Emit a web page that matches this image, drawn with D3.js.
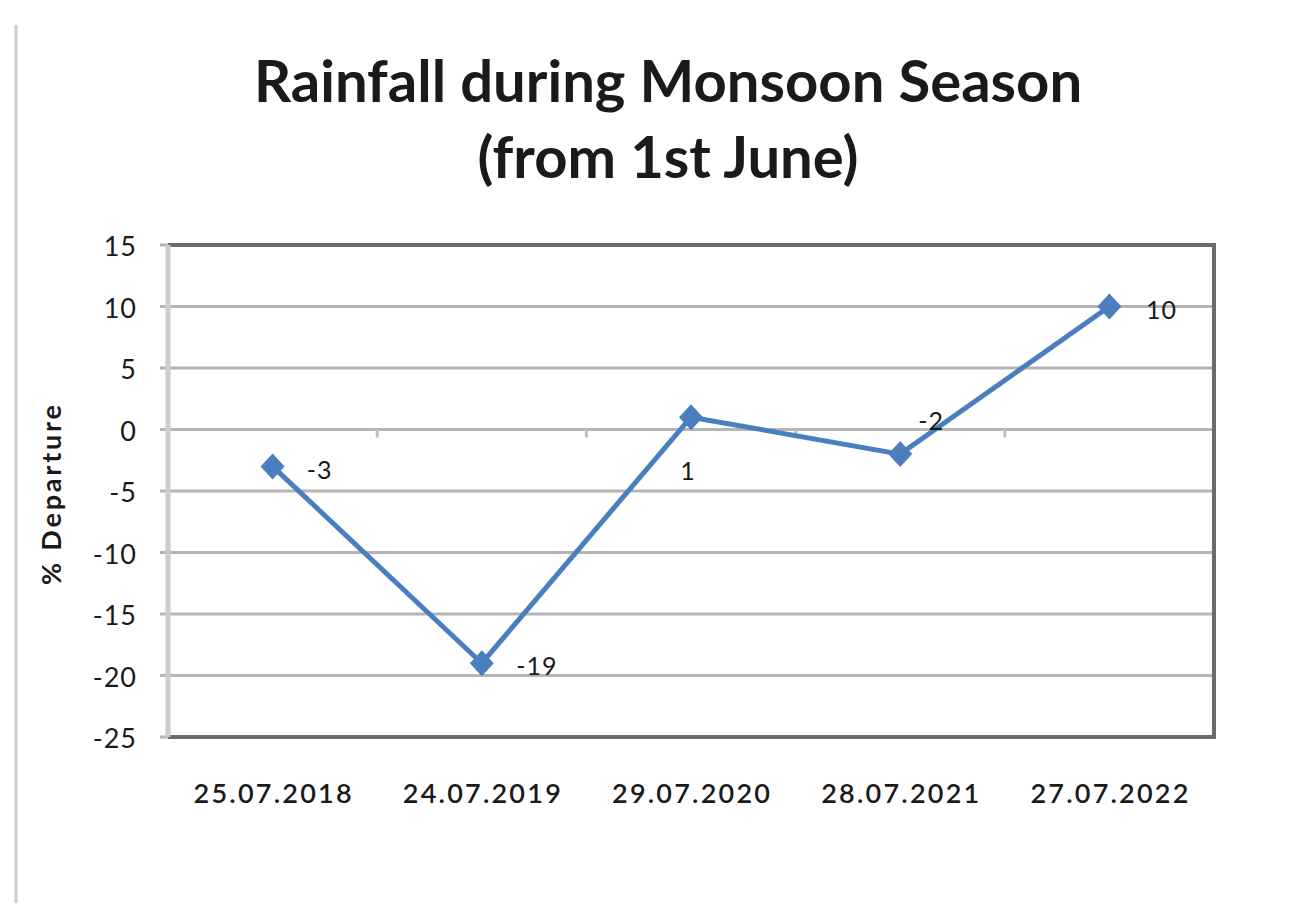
<!DOCTYPE html>
<html>
<head>
<meta charset="utf-8">
<script src="https://cdn.jsdelivr.net/npm/d3@7"></script>
<style>
  body { margin: 0; background: #fff; }
  text { font-family: Lato, "Open Sans", sans-serif; fill: #1a1a1a; }
</style>
</head>
<body>
<svg width="1306" height="906"></svg>
<script>
// data
var dates = ["25.07.2018", "24.07.2019", "29.07.2020", "28.07.2021", "27.07.2022"];
var departure = [-3, -19, 1, -2, 10];
var yTicks = [15, 10, 5, 0, -5, -10, -15, -20, -25];
var titleLines = ["Rainfall during Monsoon Season", "(from 1st June)"];

var svg = d3.select("svg"),
    width = +svg.attr("width"),
    height = +svg.attr("height");

var plot = { left: 168, right: 1214, top: 245, bottom: 737 };

var x = d3.scaleBand()
    .domain(dates)
    .range([plot.left, plot.right]);

var y = d3.scaleLinear()
    .domain([-25, 15])
    .range([plot.bottom, plot.top]);

// outer frame line on the left
svg.append("line")
    .attr("x1", 16).attr("x2", 16)
    .attr("y1", 25).attr("y2", 903)
    .attr("stroke", "#cccccc")
    .attr("stroke-width", 3);

// title
svg.selectAll(".title")
    .data(titleLines)
    .enter()
    .append("text")
    .attr("class", "title")
    .attr("x", 668)
    .attr("y", function (d, i) { return 102 + i * 76; })
    .attr("text-anchor", "middle")
    .style("font-size", "58px")
    .style("font-weight", "bold")
    .text(function (d) { return d; });

// gridlines
svg.append("g")
    .selectAll("line")
    .data(yTicks)
    .enter()
    .append("line")
    .attr("x1", plot.left - 8)
    .attr("x2", plot.right)
    .attr("y1", function (d) { return y(d); })
    .attr("y2", function (d) { return y(d); })
    .attr("stroke", "#b5b5b5")
    .attr("stroke-width", 3);

// tick marks along zero line, at category boundaries
svg.append("g")
    .selectAll("line")
    .data(dates.slice(1))
    .enter()
    .append("line")
    .attr("x1", function (d) { return x(d); })
    .attr("x2", function (d) { return x(d); })
    .attr("y1", y(0))
    .attr("y2", y(0) + 8)
    .attr("stroke", "#c0c0c0")
    .attr("stroke-width", 3);

// plot border: top, right, bottom dark
svg.append("path")
    .attr("d", "M" + plot.left + "," + plot.top + "H" + plot.right + "V" + plot.bottom + "H" + plot.left)
    .attr("fill", "none")
    .attr("stroke", "#6b6b6b")
    .attr("stroke-width", 4);

// left axis line
svg.append("line")
    .attr("x1", plot.left).attr("x2", plot.left)
    .attr("y1", plot.top).attr("y2", plot.bottom)
    .attr("stroke", "#cccccc")
    .attr("stroke-width", 5);

// y axis labels
svg.append("g")
    .selectAll("text")
    .data(yTicks)
    .enter()
    .append("text")
    .attr("x", 137)
    .attr("y", function (d) { return y(d) + 11; })
    .attr("text-anchor", "end")
    .style("font-size", "27px")
    .style("letter-spacing", "1px")
    .text(function (d) { return d; });

// x axis labels
svg.append("g")
    .selectAll("text")
    .data(dates)
    .enter()
    .append("text")
    .attr("x", function (d) { return x(d) + x.bandwidth() / 2; })
    .attr("y", 803)
    .attr("text-anchor", "middle")
    .attr("textLength", 158)
    .attr("lengthAdjust", "spacing")
    .style("font-size", "27px")
    .style("font-weight", "600")
    .text(function (d) { return d; });

// y axis title
svg.append("text")
    .attr("transform", "translate(61,495) rotate(-90)")
    .attr("text-anchor", "middle")
    .attr("textLength", 180)
    .attr("lengthAdjust", "spacing")
    .style("font-size", "27px")
    .style("font-weight", "bold")
    .text("% Departure");

// line
var line = d3.line()
    .x(function (d, i) { return x(dates[i]) + x.bandwidth() / 2; })
    .y(function (d) { return y(d); });

svg.append("path")
    .datum(departure)
    .attr("d", line)
    .attr("fill", "none")
    .attr("stroke", "#4a7ebf")
    .attr("stroke-width", 5);

// diamond markers
svg.append("g")
    .selectAll("path")
    .data(departure)
    .enter()
    .append("path")
    .attr("d", "M0,-13L12,0L0,13L-12,0Z")
    .attr("transform", function (d, i) {
        return "translate(" + (x(dates[i]) + x.bandwidth() / 2) + "," + y(d) + ")";
    })
    .attr("fill", "#4a7ebf");

// data labels
var labelOffsets = [[47, 13], [55, 12], [-3, 63], [31, -24], [52, 12]];
svg.append("g")
    .selectAll("text")
    .data(departure)
    .enter()
    .append("text")
    .attr("x", function (d, i) { return x(dates[i]) + x.bandwidth() / 2 + labelOffsets[i][0]; })
    .attr("y", function (d, i) { return y(d) + labelOffsets[i][1]; })
    .attr("text-anchor", "middle")
    .style("font-size", "25px")
    .style("letter-spacing", "1px")
    .text(function (d) { return d; });
</script>
</body>
</html>
